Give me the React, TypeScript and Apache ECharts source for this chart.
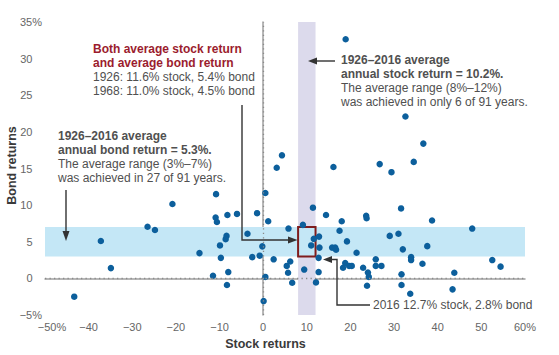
import React, { useEffect, useRef } from "react";
import * as echarts from "echarts";

const stockReturns = [
  -43.3, -37.2, -34.9, -26.5, -24.8, -20.8, -14.6, -10.8, 0.5, -10.9,
  -10.6, -8.2, -6.0, -1.4, 1.15, -3.6, -8.4, -8.6, -9.9, -0.2,
  -9.7, -2.5, -0.8, 2.4, -11.5, -8.0, -8.3, 0.5, 0.1, 4.3,
  3.1, 18.9, 32.6, 36.7, 34.5, 26.7, 29.4, 16.1, 11.4, 14.4,
  18.0, 23.6, 23.7, 31.6, 38.7, 5.8, 9.1, 17.5, 11.6, 12.8,
  11.0, 12.9, 15.8, 16.5, 16.7, 19.2, 21.4, 29.0, 31.0, 32.0,
  37.6, 47.9, 12.7, 5.4, 6.2, 5.7, 6.65, 9.4, 12.7, 12.1,
  18.3, 18.8, 19.7, 20.3, 22.9, 24.0, 24.2, 23.8, 25.8, 25.8,
  27.1, 31.7, 31.7, 33.9, 33.9, 33.7, 36.5, 43.8, 43.4, 52.5,
  54.4,
];
const bondReturns = [
  -2.5, 5.1, 1.4, 7.05, 6.6, 10.15, 3.45, 11.5, 11.65, 8.3,
  7.7, 8.65, 8.8, 8.9, 7.8, 6.1, 5.8, 5.35, 4.5, 4.37,
  2.8, 2.9, 3.1, 2.6, 0.36, 0.86, -0.9, 0.2, -3.1, 16.8,
  15.1, 32.65, 22.1, 18.4, 15.9, 15.6, 14.5, 15.2, 9.65, 8.65,
  7.8, 8.55, 8.2, 9.55, 7.9, 6.8, 7.3, 6.5, 5.4, 5.7,
  4.5, 4.2, 4.2, 4.2, 3.9, 5.05, 3.5, 5.8, 6.1, 3.96,
  4.4, 6.8, 2.8, 1.7, 2.3, 0.77, -0.6, 1.2, 0.86, -0.55,
  1.45, 2.1, 1.7, 1.7, 1.45, 0.8, 0.2, -1.0, 2.6, 1.7,
  1.7, 0.55, -0.9, 2.9, 2.5, -2.1, 2.0, 0.77, -1.5, 2.5,
  1.6,
];

const bondRange = [3, 7];
const stockRange = [8, 12];

const FONT = '"Liberation Sans", Arial, Helvetica, sans-serif';
const GRAY = "#505050";
const RED = "#9b1c2e";
const LINE = "#333333";

export default function App() {
  const ref = useRef<HTMLDivElement>(null);
  useEffect(() => {
    document.body.style.margin = "0";
    if (!ref.current) return;
    const chart = echarts.init(ref.current, undefined, { renderer: "svg" });
    const points = stockReturns.map((s, i) => [s, bondReturns[i]]);
    const txt = (text: string, x: number, y: number, bold: boolean, fill: string, size = 12) => ({
      type: "text",
      x,
      y,
      z: 10,
      style: {
        text,
        fill,
        font: `${bold ? "bold " : ""}${size}px ${FONT}`,
        lineHeight: 14,
        verticalAlign: "top",
        align: "left",
      },
    });
    const lineStyle = { stroke: LINE, lineWidth: 1.4, fill: null };
    const option: any = {
      animation: false,
      backgroundColor: "#ffffff",
      grid: { left: 45, right: 34, top: 22, bottom: 40, containLabel: false, outerBoundsMode: "none" },
      xAxis: {
        type: "value",
        min: -50,
        max: 60,
        interval: 10,
        name: "Stock returns",
        nameLocation: "middle",
        nameGap: 22,
        nameTextStyle: { fontFamily: FONT, fontWeight: "bold", fontSize: 12.5, color: "#3a3a3a", padding: [0, 39, 0, 0] },
        axisLine: { show: true, lineStyle: { color: "#a0a0a0", width: 1.5 } },
        axisTick: { show: false },
        splitLine: { show: false },
        axisLabel: {
          color: "#666",
          fontFamily: FONT,
          fontSize: 11,
          margin: 6,
          formatter: (v: number) => {
            if (v === -50) return "{l|−50%}";
            if (v === 60) return "60%";
            if (v < 0) return "−" + Math.abs(v);
            return String(v);
          },
          rich: { l: { padding: [0, 0, 0, 14], color: "#666", fontFamily: FONT, fontSize: 11 } },
        },
      },
      yAxis: {
        type: "value",
        min: -5,
        max: 35,
        interval: 5,
        name: "Bond returns",
        nameLocation: "middle",
        nameGap: 27,
        nameMoveOverlap: false,
        nameTextStyle: { fontFamily: FONT, fontWeight: "bold", fontSize: 12.5, color: "#3a3a3a", padding: [0, 0, 0, 6] },
        axisLine: { show: true, lineStyle: { color: "#a0a0a0", width: 1.5 } },
        axisTick: { show: false },
        splitLine: { show: false },
        axisLabel: {
          color: "#666",
          fontFamily: FONT,
          fontSize: 11,
          margin: 3,
          formatter: (v: number) => {
            if (v === 35) return "35%";
            if (v === -5) return "−5%";
            return "{p|" + v + "}";
          },
          rich: { p: { padding: [0, 9.5, 0, 0], color: "#666", fontFamily: FONT, fontSize: 11 } },
        },
      },
      series: [
        {
          type: "line",
          data: [],
          z: 1,
          silent: true,
          markArea: {
            silent: true,
            data: [
              [
                { xAxis: stockRange[0], yAxis: -5, itemStyle: { color: "#dcdaec" } },
                { xAxis: stockRange[1], yAxis: 35 },
              ],
              [
                { xAxis: -50, yAxis: bondRange[0], itemStyle: { color: "#c4e7f6" } },
                { xAxis: 60, yAxis: bondRange[1] },
              ],
            ],
          },
          markLine: {
            silent: true,
            symbol: "none",
            label: { show: false },
            lineStyle: { color: "#8a8a8a", width: 1.3, type: [1.3, 3.2] },
            data: [{ xAxis: 0 }, { yAxis: 0 }],
          },
        },
        {
          type: "scatter",
          z: 3,
          data: points,
          symbolSize: 6.5,
          itemStyle: { color: "#0c5f9c", opacity: 1 },
        },
        {
          type: "line",
          data: [],
          z: 4,
          silent: true,
          markArea: {
            silent: true,
            data: [
              [
                {
                  xAxis: stockRange[0],
                  yAxis: bondRange[0],
                  itemStyle: { color: "rgba(0,0,0,0)", borderColor: "#7f1d1d", borderWidth: 2 },
                },
                { xAxis: stockRange[1], yAxis: bondRange[1] },
              ],
            ],
          },
        },
      ],
      graphic: [
        txt("Both average stock return\nand average bond return", 93, 42, true, RED),
        txt("1926: 11.6% stock, 5.4% bond\n1968: 11.0% stock, 4.5% bond", 93, 70, false, GRAY),
        txt("1926–2016 average\nannual bond return = 5.3%.", 58, 129, true, GRAY),
        txt("The average range (3%–7%)\nwas achieved in 27 of 91 years.", 58, 157, false, GRAY),
        txt("1926–2016 average\nannual stock return = 10.2%.", 341, 53, true, GRAY),
        txt("The average range (8%–12%)\nwas achieved in only 6 of 91 years.", 341, 80.5, false, GRAY),
        txt("2016 12.7% stock, 2.8% bond", 373, 297.5, false, GRAY),
        // bond arrow (down)
        { type: "line", z: 10, shape: { x1: 66, y1: 190, x2: 66, y2: 233 }, style: lineStyle },
        { type: "polygon", z: 10, shape: { points: [[62.5, 231], [69.5, 231], [66, 241]] }, style: { fill: LINE } },
        // both-average connector
        { type: "polyline", z: 10, shape: { points: [[242, 105], [242, 240], [290, 240]] }, style: lineStyle },
        { type: "polygon", z: 10, shape: { points: [[288, 236.5], [288, 243.5], [297.5, 240]] }, style: { fill: LINE } },
        // stock arrow (left)
        { type: "line", z: 10, shape: { x1: 335, y1: 61, x2: 315, y2: 61 }, style: lineStyle },
        { type: "polygon", z: 10, shape: { points: [[317, 57.5], [317, 64.5], [308, 61]] }, style: { fill: LINE } },
        // 2016 connector
        { type: "polyline", z: 10, shape: { points: [[370, 305], [337, 305], [337, 259.5], [330, 259.5]] }, style: lineStyle },
        { type: "polygon", z: 10, shape: { points: [[332, 256], [332, 263], [323, 259.5]] }, style: { fill: LINE } },
      ],
    };
    chart.setOption(option);
    return () => chart.dispose();
  }, []);
  return <div ref={ref} style={{ position: "absolute", left: 0, top: 0, width: 559, height: 355 }} />;
}
